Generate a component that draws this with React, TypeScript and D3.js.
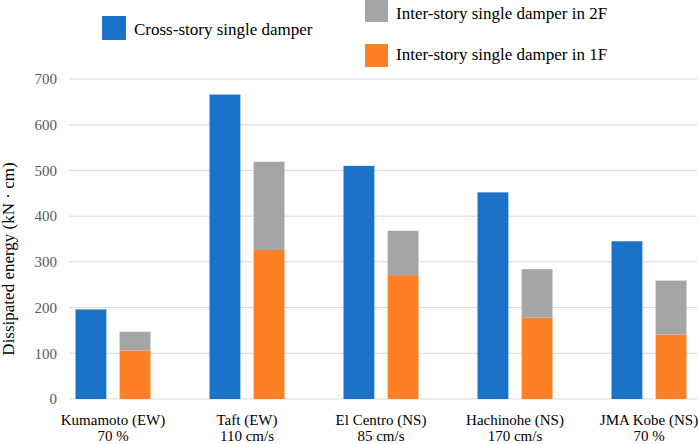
import React from 'react';
import * as d3 from 'd3';

// earthquake records and their scaled intensity
const categories = ['Kumamoto (EW)', 'Taft (EW)', 'El Centro (NS)', 'Hachinohe (NS)', 'JMA Kobe (NS)'];
const intensities = ['70 %', '110 cm/s', '85 cm/s', '170 cm/s', '70 %'];

// dissipated energy, kN·cm
const crossStory = [196, 666, 510, 452, 345];
const interStory1F = [106, 326, 271, 178, 141];
const interStory2F = [41, 193, 97, 106, 118];

const yTicks = [0, 100, 200, 300, 400, 500, 600, 700];

const BLUE = '#1a72c9';
const GRAY = '#a5a5a5';
const ORANGE = '#ff7f27';
const FONT = 'Liberation Serif, Times New Roman, DejaVu Serif, serif';

const W = 699;
const H = 444;

const App = () => {
    const x = d3.scaleBand().domain(categories).range([46, 716]);
    const inner = d3.scaleBand().domain(['cross', 'inter']).range([-37.5, 37.5]).paddingInner(0.3);
    const y = d3.scaleLinear().domain([0, 700]).range([399, 79]);

    const rows = categories.map((c, i) => ({ cat: c, f1: interStory1F[i], f2: interStory2F[i] }));
    const stacked = d3.stack().keys(['f1', 'f2'])(rows as any);
    const stackColors = { f1: ORANGE, f2: GRAY };

    const center = (c) => (x(c) ?? 0) + x.bandwidth() / 2;

    return (
        <div style={{ position: 'absolute', left: 0, top: 0 }}>
            <svg width={W} height={H} style={{ display: 'block', background: '#fff', fontFamily: FONT }}>
                {/* grid */}
                {yTicks.map(t => (
                    <g key={t}>
                        <line x1={69} x2={697} y1={y(t)} y2={y(t)} stroke="#d9d9d9" strokeWidth={1} />
                        <text x={57} y={y(t)} dy="0.35em" textAnchor="end" style={{ fontFamily: FONT }} fontSize={15} fill="#595959">{t}</text>
                    </g>
                ))}

                {/* cross-story bars */}
                {categories.map((c, i) => (
                    <rect key={c} x={center(c) + (inner('cross') ?? 0)} y={y(crossStory[i])}
                        width={inner.bandwidth()} height={y(0) - y(crossStory[i])} fill={BLUE} />
                ))}

                {/* inter-story stacked bars */}
                {stacked.map(layer => (
                    <g key={layer.key} fill={stackColors[layer.key]}>
                        {layer.map((d, i) => (
                            <rect key={i} x={center(categories[i]) + (inner('inter') ?? 0)} y={y(d[1])}
                                width={inner.bandwidth()} height={y(d[0]) - y(d[1])} />
                        ))}
                    </g>
                ))}

                {/* category labels */}
                {categories.map((c, i) => (
                    <text key={c} x={center(c)} textAnchor="middle" style={{ fontFamily: FONT }} fontSize={15} fill="#000">
                        <tspan x={center(c)} y={425}>{c}</tspan>
                        <tspan x={center(c)} y={441}>{intensities[i]}</tspan>
                    </text>
                ))}

                {/* y title */}
                <text transform="translate(14,259) rotate(-90)" textAnchor="middle" style={{ fontFamily: FONT }} fontSize={17} fill="#000">
                    Dissipated energy (kN · cm)
                </text>

                {/* legend */}
                <g style={{ fontFamily: FONT }} fontSize={17}>
                    <rect x={102} y={16} width={24} height={24} fill={BLUE} />
                    <text x={134} y={35}>Cross-story single damper</text>
                    <rect x={365} y={-1} width={23} height={23} fill={GRAY} />
                    <text x={396} y={19}>Inter-story single damper in 2F</text>
                    <rect x={365} y={44} width={23} height={23} fill={ORANGE} />
                    <text x={396} y={60}>Inter-story single damper in 1F</text>
                </g>
            </svg>
        </div>
    );
};

export default App;
